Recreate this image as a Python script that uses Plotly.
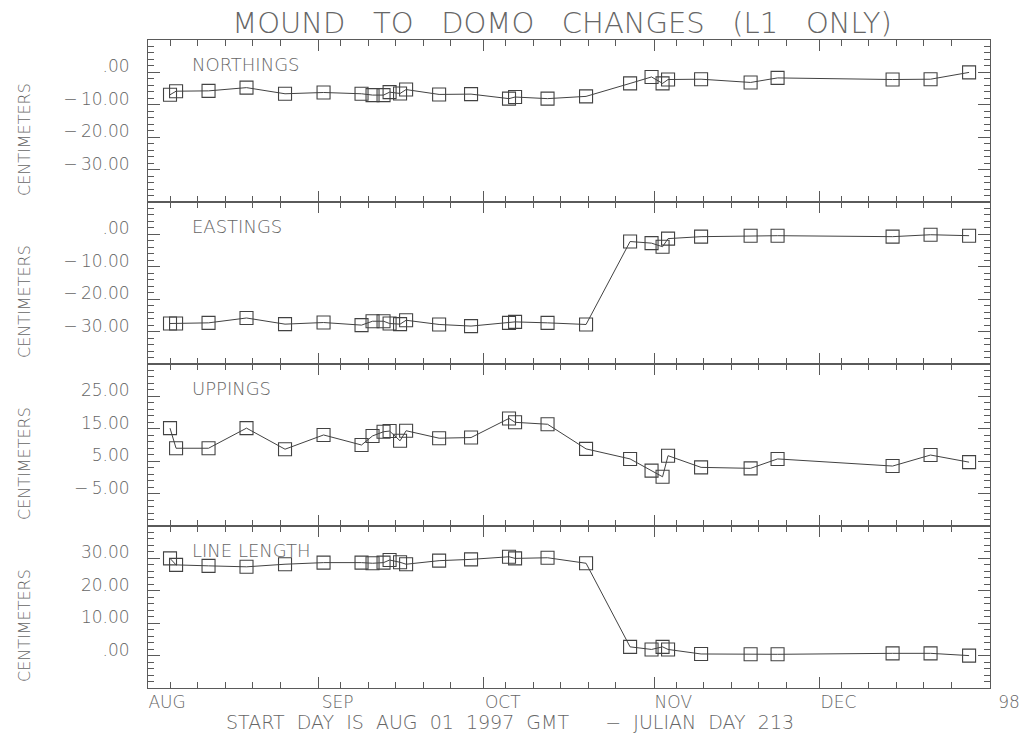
import plotly.graph_objects as go
from plotly.subplots import make_subplots

# Survey times, days after AUG 01 1997
days = [4.0, 5.1, 11.0, 17.9, 24.9, 31.9, 38.8, 40.8, 42.8, 43.9, 45.8, 46.9,
        52.9, 58.7, 65.6, 66.7, 72.6, 79.6, 87.6, 91.5, 93.5, 94.5, 100.5,
        109.5, 114.4, 135.3, 142.2, 149.2]

# Component changes, centimeters
northings = [-6.9, -5.8, -5.7, -4.7, -6.6, -6.2, -6.6, -7.0, -7.0, -6.1, -6.5, -5.3,
             -6.8, -6.7, -8.1, -7.6, -8.1, -7.4, -3.4, -1.4, -3.4, -2.2, -2.1,
             -3.1, -1.7, -2.2, -2.1, 0.0]
eastings = [-27.5, -27.5, -27.3, -25.8, -27.7, -27.2, -28.0, -26.8, -26.8, -27.5, -27.7, -26.5,
            -27.8, -28.3, -27.3, -27.0, -27.3, -27.8, -2.2, -2.7, -3.8, -1.3, -0.7,
            -0.4, -0.4, -0.7, -0.1, -0.4]
uppings = [15.2, 9.0, 9.0, 15.2, 8.7, 13.1, 10.0, 12.8, 14.1, 14.3, 11.3, 14.4,
           12.1, 12.3, 18.2, 17.0, 16.4, 8.8, 5.7, 2.1, 0.2, 6.7, 3.1,
           2.8, 5.7, 3.5, 6.9, 4.7]
line_length = [30.0, 28.0, 27.7, 27.4, 28.2, 28.7, 28.7, 28.5, 28.7, 29.5, 28.8, 28.2,
               29.3, 29.7, 30.5, 30.0, 30.2, 28.5, 2.7, 1.9, 2.7, 1.9, 0.5,
               0.4, 0.4, 0.7, 0.7, 0.0]

panel_names = ["NORTHINGS", "EASTINGS", "UPPINGS", "LINE LENGTH"]
panel_ranges = [[-40, 10], [-40, 10], [-15, 35], [-10, 40]]
panel_tickvals = [[0, -10, -20, -30], [0, -10, -20, -30], [25, 15, 5, -5], [30, 20, 10, 0]]
M = "\u2212\u2009"
panel_ticktext = [[".00", M + "10.00", M + "20.00", M + "30.00"],
                  [".00", M + "10.00", M + "20.00", M + "30.00"],
                  ["25.00", "15.00", "5.00", M + "5.00"],
                  ["30.00", "20.00", "10.00", ".00"]]

# Month starts (days after AUG 01) and their labels
month_days = [0, 31, 61, 92, 122, 153]
month_text = ["AUG", "SEP", "OCT", "NOV", "DEC", "98"]
minor_days = [m + k for m in month_days[:-1] for k in (4, 9, 14, 19, 24)]

INK = "#424242"
AXIS = "#5a5a5a"
TEXT = "#666666"
FONT = "DejaVu Sans"
NB = "\u00a0"


def spaced(words, n):
    return (NB * n).join(words)


fig = make_subplots(rows=4, cols=1, shared_xaxes=True, vertical_spacing=0)

series = [northings, eastings, uppings, line_length]
for i, vals in enumerate(series, start=1):
    fig.add_trace(go.Scatter(
        x=days, y=vals, mode="lines+markers",
        line=dict(color=INK, width=1),
        marker=dict(symbol="square-open", size=13, color=INK, line=dict(width=1.1)),
        showlegend=False,
    ), row=i, col=1)

    fig.update_yaxes(
        range=panel_ranges[i - 1],
        tickmode="array", tickvals=panel_tickvals[i - 1], ticktext=panel_ticktext[i - 1],
        ticks="inside", ticklen=12, tickwidth=1, tickcolor=AXIS,
        minor=dict(dtick=2, tick0=1 if i == 3 else 0, ticks="inside", ticklen=6,
                   tickcolor=AXIS, tickwidth=1),
        showline=True, linecolor=AXIS, linewidth=1, mirror="ticks",
        showgrid=False, zeroline=False,
        tickfont=dict(family=FONT, size=17, color=TEXT, weight=200),
        ticklabelshift=-6, ticklabelstandoff=14,
        row=i, col=1,
    )
    fig.update_xaxes(
        range=[0, 153],
        tickmode="array", tickvals=month_days, ticktext=month_text,
        ticks="inside", ticklen=11, tickwidth=1, tickcolor=AXIS,
        minor=dict(tickmode="array", tickvals=minor_days, ticks="inside",
                   ticklen=6, tickcolor=AXIS, tickwidth=1),
        showline=True, linecolor=AXIS, linewidth=1, mirror="ticks",
        showgrid=False, zeroline=False,
        showticklabels=(i == 4),
        tickfont=dict(family=FONT, size=17, color=TEXT, weight=200),
        ticklabelshift=19, ticklabelstandoff=-1,
        row=i, col=1,
    )

    # panel name inside the upper-left corner
    fig.add_annotation(
        text=panel_names[i - 1], xref=f"x{'' if i == 1 else i} domain",
        yref=f"y{'' if i == 1 else i} domain",
        x=0.05, y=1 - 24 / 162, xanchor="left", yanchor="middle", showarrow=False,
        font=dict(family=FONT, size=18, color=TEXT, weight=200),
    )
    # vertical unit label
    fig.add_annotation(
        text="CENTIMETERS", xref="paper", yref=f"y{'' if i == 1 else i} domain",
        x=-124 / 842, y=0.5 - 19 / 162, xanchor="center", yanchor="middle",
        textangle=-90, showarrow=False,
        font=dict(family=FONT, size=16, color=TEXT, weight=200),
    )

fig.add_annotation(
    text=spaced(["START", "DAY", "IS", "AUG", "01", "1997", "GMT"], 2) + NB * 6 + "\u2212" + NB * 2
    + spaced(["JULIAN", "DAY", "213"], 2),
    xref="paper", yref="paper", x=(510 - 148) / 842, y=-34 / 648,
    xanchor="center", yanchor="middle", showarrow=False,
    font=dict(family=FONT, size=19, color=TEXT, weight=200),
)

fig.update_layout(
    template="none",
    title=dict(text=spaced(["MOUND", "TO", "DOMO", "CHANGES", "(L1", "ONLY)"], 3),
               x=562 / 1022, xanchor="center", y=1 - 23 / 734, yanchor="middle",
               font=dict(family=FONT, size=29, color=TEXT, weight=200)),
    width=1022, height=734,
    margin=dict(l=148, r=32, t=40, b=46),
    paper_bgcolor="white", plot_bgcolor="white",
)

fig.write_html("out.html")
